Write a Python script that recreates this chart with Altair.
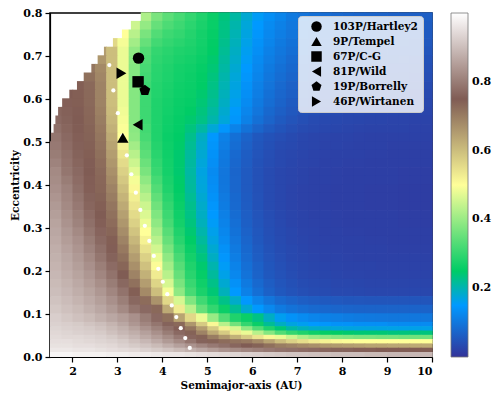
import altair as alt
import pandas as pd

N = None  # masked cell (outside the computed region)

# ---------------- heat-map values (x1000) ----------------
# columns: semimajor-axis bins of 0.25 AU from 1.5 to 10 AU (34 columns)
a_first, a_width, n_cols = 1.5, 0.25, 34

e079 = [N,N,N,N,N,N,N,N, 420,370,340,320,300,280,260,235,210,180,155,135,120,105,95,90,85,80,77,74,72,70,68,66,65,64]
e077 = [N,N,N,N,N,N,N, 450,395,350,325,310,292,275,258,232,205,175,150,130,115,101,91,86,81,76,73,70,68,66,64,63,62,61]
e075 = [N,N,N,N,N,N, 500,430,370,330,310,300,285,270,255,230,200,170,145,125,110,98,88,82,77,73,70,67,65,63,61,60,59,58]
e073 = [N,N,N,N,N, 560,490,410,350,315,300,290,280,268,252,225,195,165,140,120,105,93,84,77,72,68,65,63,61,59,57,56,55,54]
e071 = [N,N,N,N, 650,600,480,390,330,300,290,280,275,265,250,220,190,160,135,115,100,88,79,72,67,63,60,58,56,54,53,52,51,50]
e069 = [N,N,N,N, 660,600,480,385,325,295,285,275,270,260,245,215,185,155,130,110,95,83,74,67,62,58,55,53,51,50,49,48,47,46]
e067 = [N,N,N, 710,680,600,480,380,320,290,280,270,265,255,240,210,180,150,125,105,90,78,69,62,57,54,51,49,47,46,45,44,43,42]
e065 = [N,N,N, 720,685,600,480,380,315,288,278,268,262,252,235,205,175,145,120,100,85,73,65,58,54,51,48,46,44,43,42,41,40,39]
e063 = [N,N, 745,730,690,600,480,380,310,285,275,265,260,250,230,200,170,140,115,95,80,68,60,54,50,47,44,42,40,39,38,37,36,35]
e061 = [N, 750,745,730,690,600,480,380,310,283,273,263,258,245,225,195,165,135,110,90,75,64,56,50,46,43,41,39,37,36,35,34,33,33]
e059 = [N, 755,745,730,690,600,480,380,310,280,270,260,255,240,220,190,160,130,105,85,70,59,51,46,42,39,37,35,34,33,32,31,30,30]
e057 = [765,758,748,733,695,605,485,380,310,280,268,258,250,235,212,182,152,122,98,78,64,54,46,41,38,35,33,32,31,30,29,28,27,27]
e055 = [770,760,750,735,700,610,490,380,310,280,265,255,245,230,205,175,145,115,90,72,58,48,41,36,33,31,29,28,27,26,25,25,24,24]
e053 = [780,765,752,738,705,620,495,385,315,280,263,253,235,210,177,145,118,93,73,59,49,41,36,32,29,28,26,25,24,24,23,23,22,22]
e051 = [790,770,755,740,710,630,500,390,320,280,260,250,225,190,148,115,90,70,55,46,39,34,30,27,25,24,23,22,21,21,20,20,20,20]
e049 = [795,775,758,743,715,640,520,410,330,285,263,248,220,185,144,110,85,66,52,43,36,32,28,26,24,23,22,21,20,20,19,19,19,19]
e047 = [800,780,760,745,720,650,540,430,340,290,265,245,215,180,140,105,80,62,48,39,33,29,26,24,22,21,20,20,19,19,18,18,18,18]
e045 = [810,785,765,748,725,660,555,450,355,298,268,245,213,175,135,102,77,60,46,38,32,28,25,23,21,20,19,19,18,18,18,17,17,17]
e043 = [820,790,770,750,730,670,570,470,370,305,270,245,210,170,130,98,74,57,44,36,30,26,23,21,20,19,18,18,17,17,17,16,16,16]
e041 = [825,800,775,753,733,680,585,490,390,318,275,248,213,173,133,99,75,57,44,36,30,26,23,21,20,19,18,18,17,17,17,16,16,16]
e039 = [830,810,780,755,735,690,600,510,410,330,280,250,215,175,135,100,75,57,44,35,29,25,22,20,19,18,17,17,16,16,16,15,15,15]
e037 = [838,815,788,760,740,700,615,525,430,345,290,255,220,180,140,104,78,59,45,36,30,25,22,20,19,18,17,17,16,16,16,15,15,15]
e035 = [845,820,795,765,745,710,630,540,450,360,300,260,225,185,145,108,80,60,46,36,30,25,22,20,19,18,17,17,16,16,16,15,15,15]
e033 = [853,828,803,773,750,718,645,555,465,375,310,265,230,190,150,113,84,63,48,38,31,26,23,21,20,19,18,18,17,17,17,16,16,16]
e031 = [860,835,810,780,755,725,660,570,480,390,320,270,235,195,155,118,88,65,50,39,32,27,24,22,20,19,18,18,17,17,17,16,16,16]
e029 = [865,843,820,790,763,735,675,590,500,410,335,280,243,205,163,124,93,69,53,41,34,29,25,23,21,20,19,19,18,18,18,17,17,17]
e027 = [870,850,830,800,770,745,690,610,520,430,350,290,250,215,170,130,98,73,55,43,35,30,26,24,22,21,20,20,19,19,18,18,18,18]
e025 = [875,858,838,810,780,753,705,630,545,455,370,305,260,225,180,138,104,78,59,46,37,32,28,25,23,22,21,21,20,20,19,19,19,19]
e023 = [880,865,845,820,790,760,720,650,570,480,390,320,270,235,190,145,110,82,62,48,39,33,29,26,24,23,22,21,21,20,20,20,20,20]
e021 = [885,870,853,830,803,773,735,670,595,505,410,335,280,245,203,155,118,88,67,52,42,36,31,28,26,25,24,23,23,22,22,22,22,22]
e019 = [890,875,860,840,815,785,750,690,620,530,430,350,290,255,215,165,125,94,71,55,45,38,33,30,28,26,25,25,24,24,23,23,23,23]
e017 = [895,883,868,850,828,800,768,718,650,565,460,370,305,265,228,180,138,105,80,62,50,43,37,34,32,30,29,28,27,27,27,26,26,26]
e015 = [900,890,875,860,840,815,785,745,680,600,490,390,320,275,240,195,150,115,88,68,55,47,41,37,35,33,32,31,30,30,30,29,29,29]
e013 = [908,898,885,870,853,830,803,768,725,665,560,460,375,313,270,228,185,148,119,97,80,70,63,59,56,54,52,51,50,50,50,50,50,50]
e011 = [915,905,895,880,865,845,820,790,770,730,630,530,430,350,300,260,220,180,150,125,105,93,85,80,76,74,72,71,70,70,70,70,70,70]
e009 = [925,915,905,895,880,865,850,830,800,770,720,640,560,480,400,330,280,260,230,190,160,140,130,120,115,112,108,105,103,101,100,100,100,100]
e0075 = [930,925,920,910,900,885,865,840,815,790,760,730,660,580,510,430,360,300,260,220,190,170,160,150,145,140,140,135,135,135,130,130,130,130]
e0065 = [935,930,925,920,910,895,880,860,835,810,780,755,710,650,580,520,460,390,330,280,240,210,195,185,180,175,172,170,170,168,167,166,165,165]
e0055 = [940,935,930,925,920,905,890,875,855,830,800,770,740,690,630,580,530,480,430,380,330,300,280,265,255,250,245,240,240,240,235,235,235,235]
e0045 = [945,940,940,935,930,920,905,890,870,850,825,795,765,740,700,660,620,580,540,510,480,450,420,400,390,380,375,370,370,365,365,360,360,360]
e0035 = [950,950,945,940,935,930,920,905,890,870,845,820,790,760,740,725,715,705,680,640,600,570,550,530,520,510,505,500,500,500,500,500,500,500]
e0025 = [955,955,950,950,945,940,930,920,910,895,875,855,835,815,795,780,765,750,740,720,700,690,680,670,660,655,650,645,640,640,635,635,630,630]
e0015 = [965,965,960,960,955,950,945,940,930,920,910,895,880,865,850,835,825,815,805,795,785,780,775,770,765,760,760,755,755,750,750,750,750,750]
e0005 = [985,985,980,980,980,975,975,970,970,965,960,960,955,950,945,940,935,930,925,920,915,910,910,905,905,900,900,900,895,895,890,890,890,890]

# (row centre e, row half height, values, left edge of the computed region in AU)
grid_rows = [
    (0.79, 0.01, e079, 3.52), (0.77, 0.01, e077, 3.30), (0.75, 0.01, e075, 3.10), (0.73, 0.01, e073, 2.90),
    (0.71, 0.01, e071, 2.70), (0.69, 0.01, e069, 2.56), (0.67, 0.01, e067, 2.42), (0.65, 0.01, e065, 2.25),
    (0.63, 0.01, e063, 2.10), (0.61, 0.01, e061, 1.93), (0.59, 0.01, e059, 1.77), (0.57, 0.01, e057, 1.68),
    (0.55, 0.01, e055, 1.62), (0.53, 0.01, e053, 1.58), (0.51, 0.01, e051, 1.52), (0.49, 0.01, e049, 1.5),
    (0.47, 0.01, e047, 1.5), (0.45, 0.01, e045, 1.5), (0.43, 0.01, e043, 1.5), (0.41, 0.01, e041, 1.5),
    (0.39, 0.01, e039, 1.5), (0.37, 0.01, e037, 1.5), (0.35, 0.01, e035, 1.5), (0.33, 0.01, e033, 1.5),
    (0.31, 0.01, e031, 1.5), (0.29, 0.01, e029, 1.5), (0.27, 0.01, e027, 1.5), (0.25, 0.01, e025, 1.5),
    (0.23, 0.01, e023, 1.5), (0.21, 0.01, e021, 1.5), (0.19, 0.01, e019, 1.5), (0.17, 0.01, e017, 1.5),
    (0.15, 0.01, e015, 1.5), (0.13, 0.01, e013, 1.5), (0.11, 0.01, e011, 1.5), (0.09, 0.01, e009, 1.5),
    (0.075, 0.005, e0075, 1.5), (0.065, 0.005, e0065, 1.5), (0.055, 0.005, e0055, 1.5), (0.045, 0.005, e0045, 1.5),
    (0.035, 0.005, e0035, 1.5), (0.025, 0.005, e0025, 1.5), (0.015, 0.005, e0015, 1.5), (0.005, 0.005, e0005, 1.5),
]

# ---------------- white dotted curve ----------------
curve_a = [2.82, 2.91, 3.01, 3.11, 3.21, 3.31, 3.41, 3.51, 3.61, 3.71,
           3.81, 3.91, 4.01, 4.11, 4.21, 4.31, 4.41, 4.51, 4.61]
curve_e = [0.679, 0.620, 0.567, 0.515, 0.469, 0.425, 0.382, 0.342, 0.305, 0.270,
           0.235, 0.205, 0.175, 0.146, 0.120, 0.093, 0.067, 0.044, 0.021]

# ---------------- comets ----------------
comet_names = ["103P/Hartley2", "9P/Tempel", "67P/C-G", "81P/Wild", "19P/Borrelly", "46P/Wirtanen"]
comet_a = [3.47, 3.12, 3.46, 3.45, 3.61, 3.09]
comet_e = [0.695, 0.51, 0.64, 0.54, 0.62, 0.66]
pentagon = "M0,-1L0.951,-0.309L0.588,0.809L-0.588,0.809L-0.951,-0.309Z"
comet_shapes = ["circle", "triangle-up", "square", "triangle-left", pentagon, "triangle-right"]

# terrain colormap stops
cmap_stops = [0.0, 0.15, 0.25, 0.5, 0.75, 1.0]
cmap_colors = ["#333399", "#0099ff", "#00cc66", "#ffff99", "#805c54", "#ffffff"]

# ---------------- build tables ----------------
cells = []
for ec, hw, vals, left in grid_rows:
    for j, v in enumerate(vals):
        if v is None:
            continue
        a0 = a_first + a_width * j
        a1 = a0 + a_width
        if a1 <= left:
            continue
        cells.append({"a0": max(a0, left), "a1": a1,
                      "e0": ec - hw, "e1": ec + hw, "v": v / 1000.0})
cells = pd.DataFrame(cells)
curve = pd.DataFrame({"a": curve_a, "e": curve_e})
comets = pd.DataFrame({"a": comet_a, "e": comet_e, "name": comet_names})

FONT = "DejaVu Serif"
xscale = alt.Scale(domain=[1.5, 10], nice=False, zero=False)
yscale = alt.Scale(domain=[0, 0.8], nice=False, zero=False)
cscale = alt.Scale(domain=cmap_stops, range=cmap_colors, interpolate="rgb")

xaxis = alt.Axis(values=list(range(2, 11)), format="d", title="Semimajor-axis (AU)")
yaxis = alt.Axis(values=[0, 0.1, 0.2, 0.3, 0.4, 0.5, 0.6, 0.7, 0.8], format=".1f", title="Eccentricity")

# each cell overlaps its right / upper neighbour by a fraction of a pixel so no seams show
heat = alt.Chart(cells).mark_rect(x2Offset=0.7, y2Offset=-0.7).encode(
    x=alt.X("a0:Q", scale=xscale, axis=xaxis),
    x2="a1:Q",
    y=alt.Y("e0:Q", scale=yscale, axis=yaxis),
    y2="e1:Q",
    color=alt.Color("v:Q", scale=cscale, legend=alt.Legend(
        title=None, orient="right", offset=19, type="gradient", direction="vertical",
        gradientLength=344, gradientThickness=17, values=[0.2, 0.4, 0.6, 0.8],
        format=".1f", labelFont=FONT, labelFontWeight="bold", labelFontSize=11,
        labelColor="black", labelOffset=4, gradientStrokeColor="#777777",
        gradientStrokeWidth=0.8, padding=0)),
)

dots = alt.Chart(curve).mark_circle(color="white", size=18, opacity=1).encode(
    x=alt.X("a:Q", scale=xscale), y=alt.Y("e:Q", scale=yscale))

pts = alt.Chart(comets).mark_point(filled=True, color="black", size=130, opacity=1).encode(
    x=alt.X("a:Q", scale=xscale), y=alt.Y("e:Q", scale=yscale),
    shape=alt.Shape("name:N", scale=alt.Scale(domain=comet_names, range=comet_shapes),
                    legend=alt.Legend(title=None, orient="none", legendX=248, legendY=3,
                                      fillColor="rgba(255,255,255,0.8)", strokeColor="#cccccc",
                                      cornerRadius=3, padding=5, symbolOffset=8, labelOffset=11,
                                      rowPadding=4, symbolSize=110, symbolStrokeWidth=0,
                                      labelFont=FONT, labelFontWeight="bold", labelFontSize=10.5,
                                      labelColor="black")),
)

chart = alt.layer(heat, dots, pts).properties(
    width=382, height=344,
    autosize=alt.AutoSizeParams(type="none"),
    padding={"left": 42, "top": 5, "right": 60, "bottom": 39},
).configure_axis(
    labelFont=FONT, labelFontWeight="bold", labelFontSize=11, labelColor="black",
    titleFont=FONT, titleFontWeight="bold", titleFontSize=10.5, titleColor="black",
    tickColor="black", domainColor="black", tickSize=5, labelPadding=3, grid=False,
    tickWidth=1.2, domainWidth=1.2,
).configure_axisY(titlePadding=2).configure_axisX(titlePadding=4).configure_view(
    stroke="black", strokeWidth=1.5)

chart.save("out.html", embed_options={"renderer": "svg", "actions": False})
